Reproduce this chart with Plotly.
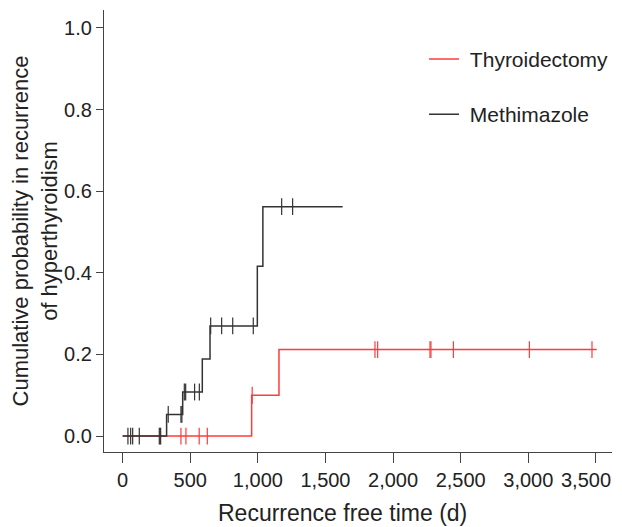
import numpy as np
import plotly.graph_objects as go

# Methimazole (black)
meth_step_days = [0, 325, 444, 589, 646, 996, 1037]
meth_step_prob = [0.0, 0.053, 0.108, 0.189, 0.270, 0.416, 0.562]
meth_end_day = 1627
meth_censor_days = [39, 59, 74, 123, 271, 281, 337, 431, 438, 456, 466, 532, 567,
                    651, 732, 814, 966, 1176, 1257]

# Thyroidectomy (red)
thy_step_days = [0, 954, 1156]
thy_step_prob = [0.0, 0.100, 0.212]
thy_end_day = 3506
thy_censor_days = [276, 431, 468, 566, 626, 958, 1866, 1886, 2273, 2280, 2446, 3008, 3471]

x_ticks = [0, 500, 1000, 1500, 2000, 2500, 3000, 3500]
x_tick_labels = ["0", "500", "1,000", "1,500", "2,000", "2,500", "3,000", "3,500"]
y_ticks = [0.0, 0.2, 0.4, 0.6, 0.8, 1.0]
y_tick_labels = ["0.0", "0.2", "0.4", "0.6", "0.8", "1.0"]

RED = "#ff3b3b"
BLACK = "#333333"


def step_value(days, probs, t):
    idx = np.searchsorted(np.array(days), np.array(t), side="right") - 1
    return np.array(probs)[idx]


fig = go.Figure()


def add_group(name, color, days, probs, end, censor, group):
    xs = list(days) + [end]
    ys = list(probs) + [probs[-1]]
    fig.add_trace(go.Scatter(x=xs, y=ys, mode="lines", line=dict(color=color, width=1.5, shape="hv"),
                             name="\u00a0" + name, legendgroup=group, showlegend=True))
    fig.add_trace(go.Scatter(x=censor, y=step_value(days, probs, censor), mode="markers",
                             marker=dict(symbol="line-ns", size=12, line=dict(color=color, width=1.2)),
                             legendgroup=group, showlegend=False, hoverinfo="skip"))


add_group("Thyroidectomy", RED, thy_step_days, thy_step_prob, thy_end_day, thy_censor_days, "a")
add_group("Methimazole", BLACK, meth_step_days, meth_step_prob, meth_end_day, meth_censor_days, "b")

font_family = "Liberation Sans, Arial, sans-serif"

# the last tick label sits shifted left inside the page, as in the reference
last = len(x_ticks) - 1
shown_ticktext = x_tick_labels[:last] + [""]
annotations = [
    dict(text="Recurrence free time (d)", xref="paper", yref="paper",
         x=0.4695, y=-0.138, xanchor="center", yanchor="middle",
         showarrow=False, font=dict(size=23)),
    dict(text=x_tick_labels[last], xref="x", yref="paper", x=x_ticks[last], xshift=-10,
         y=-0.0633, xanchor="center", yanchor="middle", showarrow=False, font=dict(size=20)),
]

# the page body adds an 8px margin; the figure is sized so the plot area lands where the reference has it
fig.update_layout(
    width=614, height=519,
    margin=dict(l=96, r=10, t=2, b=75),
    plot_bgcolor="white", paper_bgcolor="white",
    font=dict(family=font_family, size=20, color="#222"),
    legend=dict(x=0.63, y=0.935, xanchor="left", yanchor="top", bgcolor="rgba(0,0,0,0)",
                font=dict(size=21), tracegroupgap=25, itemwidth=30),
    xaxis=dict(range=[-138, 3619], tickvals=x_ticks, ticktext=shown_ticktext, automargin=False,
               showline=True, linecolor="#444", linewidth=1.2, ticks="outside", ticklen=10,
               tickcolor="#444", showgrid=False, zeroline=False, tickfont=dict(size=20)),
    yaxis=dict(range=[-0.039, 1.044], tickvals=y_ticks, ticktext=y_tick_labels, automargin=False,
               showline=True, linecolor="#444", linewidth=1.2, ticks="outside", ticklen=7,
               tickcolor="#444", showgrid=False, zeroline=False, tickfont=dict(size=20),
               title=dict(text="Cumulative probability in recurrence<br>of hyperthyroidism",
                          font=dict(size=22), standoff=2)),
    annotations=annotations,
)

fig.write_html("out.html")
